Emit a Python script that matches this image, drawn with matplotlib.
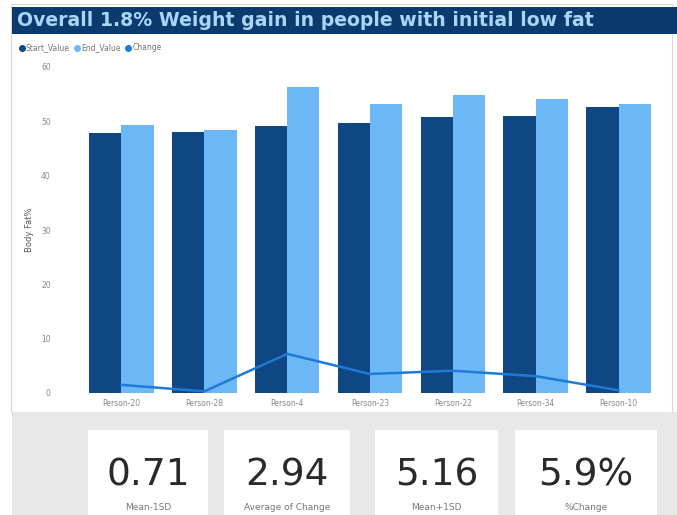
import numpy as np
import matplotlib.pyplot as plt
from matplotlib.patches import Rectangle
from matplotlib.lines import Line2D

# Datos de grasa corporal por persona
personas = ['Person-20', 'Person-28', 'Person-4', 'Person-23', 'Person-22', 'Person-34', 'Person-10']
start_value = [47.9, 48.1, 49.2, 49.7, 50.8, 51.0, 52.7]
end_value = [49.4, 48.4, 56.4, 53.2, 54.9, 54.1, 53.2]
change = [1.5, 0.3, 7.2, 3.5, 4.1, 3.1, 0.5]

# Tarjetas inferiores
tarjeta_valores = ['0.71', '2.94', '5.16', '5.9%']
tarjeta_nombres = ['Mean-1SD', 'Average of Change', 'Mean+1SD', '%Change']

W, H = 677, 515
fig = plt.figure(figsize=(W / 100, H / 100), dpi=100)
fig.patch.set_facecolor('white')

def caja(x0, y0, x1, y1, **kw):
    # rectangulo en pixeles (origen arriba a la izquierda), detras de los ejes
    fig.add_artist(Rectangle((x0 / W, 1 - y1 / H), (x1 - x0) / W, (y1 - y0) / H,
                             transform=fig.transFigure, zorder=-5, **kw))

# panel blanco y borde
caja(11, 4, 672, 412, facecolor='white', edgecolor='#d8d8d8', lw=0.8)
# barra del titulo
caja(12, 7, 677, 34, facecolor='#0b3a6e', edgecolor='none')
fig.text(17 / W, 1 - 21 / H, 'Overall 1.8% Weight gain in people with initial low fat',
         color='#a9d6f7', fontsize=13.6, fontweight='bold', va='center', ha='left')

# zona gris inferior con tarjetas
caja(12, 412, 677, 515, facecolor='#e8e8e8', edgecolor='none')
tarjetas_x = [(88, 208), (224, 350), (375, 498), (515, 657)]
for (x0, x1), val, nom in zip(tarjetas_x, tarjeta_valores, tarjeta_nombres):
    caja(x0, 430, x1, 520, facecolor='white', edgecolor='none')
    xc = (x0 + x1) / 2 / W
    fig.text(xc, 1 - 476 / H, val, fontsize=27, color='#2a2a2a', ha='center', va='center')
    fig.text(xc, 1 - 507 / H, nom, fontsize=6.5, color='#777777', ha='center', va='center')

# grafico de barras
ax = fig.add_axes([80 / W, (H - 393) / H, 580 / W, 326 / H])
ax.set_facecolor('none')
x = np.arange(len(personas))
ancho = 0.39
ax.bar(x - ancho / 2, start_value, ancho, color='#0f4784', label='Start_Value')
ax.bar(x + ancho / 2, end_value, ancho, color='#6cb8f6', label='End_Value')
ax.plot(x, change, color='#1f7ad6', lw=1.8, label='Change')

ax.set_xlim(-0.5, 6.5)
ax.set_ylim(0, 60)
ax.set_yticks(np.arange(0, 61, 10))
ax.set_xticks(x)
ax.set_xticklabels(personas)
ax.tick_params(axis='both', length=0, labelsize=5.5, labelcolor='#888888')
ax.tick_params(axis='y', pad=21)
ax.tick_params(axis='x', pad=4)
for s in ax.spines.values():
    s.set_visible(False)
ax.set_ylabel('Body Fat%', fontsize=6, color='#555555', labelpad=5)

# leyenda
items = [Line2D([], [], marker='o', ls='none', color=c, markersize=4)
         for c in ['#0f4784', '#6cb8f6', '#1f7ad6']]
fig.legend(items, ['Start_Value', 'End_Value', 'Change'], loc='center left',
           bbox_to_anchor=(12 / W, 1 - 48 / H), ncol=3, frameon=False, fontsize=5.5,
           handletextpad=0.1, columnspacing=0.6, handlelength=0.8, labelcolor='#777777')

fig.savefig('out.png', dpi=100)
